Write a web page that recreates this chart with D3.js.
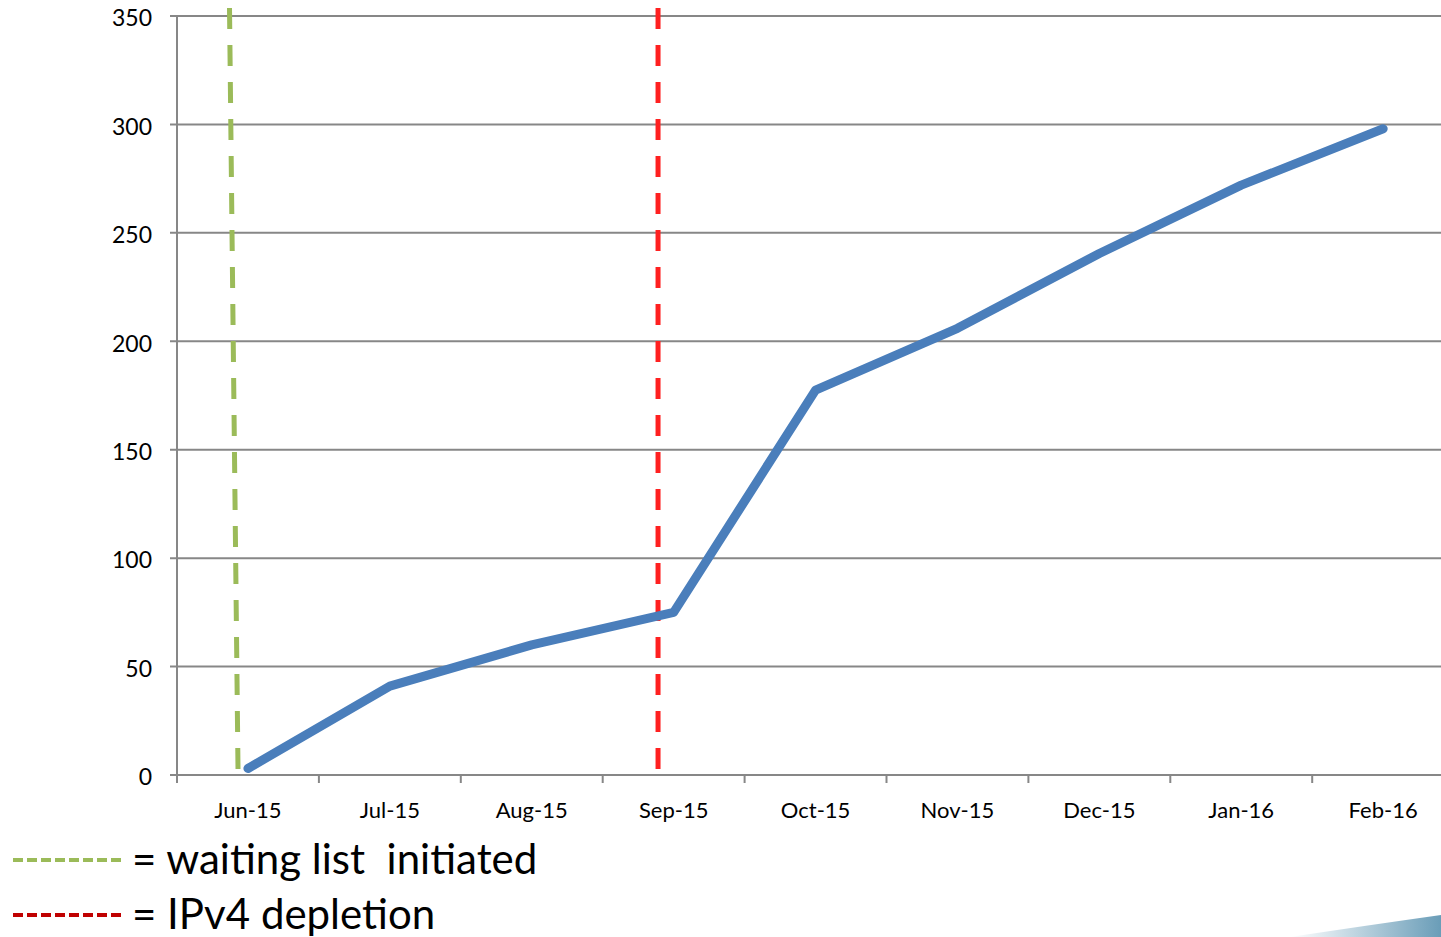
<!DOCTYPE html>
<html>
<head>
<meta charset="utf-8">
<script src="https://cdn.jsdelivr.net/npm/d3@7"></script>
<style>
  body { margin: 0; background: #fff; }
  text { font-family: Lato, "Noto Sans", sans-serif; }
</style>
</head>
<body>
<div id="vis"></div>
<script>
// data
const months = ["Jun-15", "Jul-15", "Aug-15", "Sep-15", "Oct-15", "Nov-15", "Dec-15", "Jan-16", "Feb-16"];
const counts = [3, 41, 60, 75, 177.5, 206, 240.5, 272, 298];
const yTicks = [0, 50, 100, 150, 200, 250, 300, 350];
// markers, in month-band units (0 = left edge of Jun-15)
const waitingList = [0.37, 0.43];   // top, bottom (drawn slightly slanted)
const depletion = [3.39, 3.39];
const legendItems = ["= waiting list\u00a0 initiated", "= IPv4 depletion"];

const width = 1441, height = 937;
const margin = {left: 177, top: 16, bottom: 162};

const svg = d3.select("#vis").append("svg")
    .attr("width", width)
    .attr("height", height);

const band = 141.9;
const x = d3.scaleLinear()
    .domain([0, months.length])
    .range([margin.left, margin.left + band * months.length]);
const y = d3.scaleLinear()
    .domain([0, 350])
    .range([height - margin.bottom, margin.top]);

// gridlines
svg.append("g")
  .selectAll("line")
  .data(yTicks)
  .join("line")
    .attr("x1", margin.left - 7)
    .attr("x2", width)
    .attr("y1", d => y(d))
    .attr("y2", d => y(d))
    .attr("stroke", "#878787")
    .attr("stroke-width", 2);

// y axis line
svg.append("line")
    .attr("x1", margin.left).attr("x2", margin.left)
    .attr("y1", y(350)).attr("y2", y(0))
    .attr("stroke", "#878787")
    .attr("stroke-width", 2);

// y labels
svg.append("g")
  .selectAll("text")
  .data(yTicks)
  .join("text")
    .attr("x", 152)
    .attr("y", d => y(d) + 2)
    .attr("dy", "0.36em")
    .attr("text-anchor", "end")
    .attr("font-size", 23)
    .attr("fill", "#000")
    .text(d => d);

// x ticks
svg.append("g")
  .selectAll("line")
  .data(d3.range(months.length + 1))
  .join("line")
    .attr("x1", d => x(d)).attr("x2", d => x(d))
    .attr("y1", y(0)).attr("y2", y(0) + 8)
    .attr("stroke", "#878787")
    .attr("stroke-width", 2);

svg.append("g")
  .selectAll("text")
  .data(months)
  .join("text")
    .attr("x", (d, i) => x(i + 0.5))
    .attr("y", 818)
    .attr("text-anchor", "middle")
    .attr("font-size", 22)
    .attr("fill", "#000")
    .text(d => d);

// marker lines
function marker(pos, color) {
  svg.append("line")
      .attr("x1", x(pos[0])).attr("y1", 8)
      .attr("x2", x(pos[1])).attr("y2", 770)
      .attr("stroke", color)
      .attr("stroke-width", 5)
      .attr("stroke-dasharray", "21 16");
}
marker(waitingList, "#9bbb59");
marker(depletion, "#ff2020");

// series line
const line = d3.line()
    .x((d, i) => x(i + 0.5))
    .y(d => y(d));

svg.append("path")
    .datum(counts)
    .attr("d", line)
    .attr("fill", "none")
    .attr("stroke", "#4a7ebb")
    .attr("stroke-width", 9)
    .attr("stroke-linecap", "round")
    .attr("stroke-linejoin", "round");

// legend
const legendColors = ["#9bbb59", "#c00000"];
const lg = svg.append("g")
  .selectAll("g")
  .data(legendItems)
  .join("g")
    .attr("transform", (d, i) => `translate(0, ${860 + i * 55})`);

lg.append("line")
    .attr("x1", 13).attr("x2", 121)
    .attr("stroke", (d, i) => legendColors[i])
    .attr("stroke-width", 4)
    .attr("stroke-dasharray", "10 4");

lg.append("text")
    .attr("x", 132)
    .attr("dy", "0.34em")
    .attr("font-size", 42)
    .attr("fill", "#000")
    .text(d => d);

// corner swoosh
const grad = svg.append("defs").append("linearGradient")
    .attr("id", "sw").attr("x1", "0").attr("x2", "1");
grad.append("stop").attr("offset", "0").attr("stop-color", "#ffffff");
grad.append("stop").attr("offset", "1").attr("stop-color", "#6a9db8");
svg.append("path")
    .attr("d", "M1290,937 Q1370,925 1441,915 L1441,937 Z")
    .attr("fill", "url(#sw)");
</script>
</body>
</html>
